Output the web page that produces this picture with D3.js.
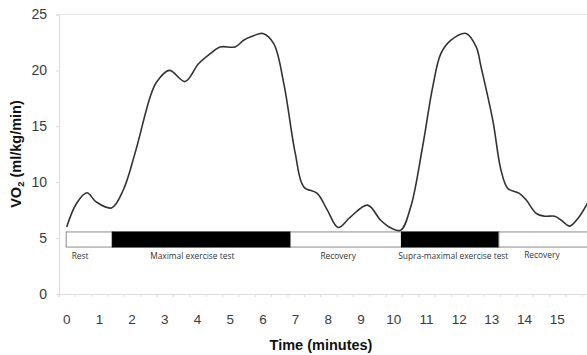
<!DOCTYPE html>
<html>
<head>
<meta charset="utf-8">
<script src="https://cdn.jsdelivr.net/npm/d3@7/dist/d3.min.js"></script>
<style>
  html, body { margin: 0; padding: 0; background: #fff; }
  svg { display: block; }
</style>
</head>
<body>
<svg id="chart" width="587" height="355"></svg>
<script>
// Oxygen uptake over time (minutes)
const timeMin = [0, 0.3, 0.62, 0.9, 1.37, 1.73, 2.09, 2.55, 2.75, 3.14, 3.62, 4.03, 4.39, 4.69, 5.15, 5.41, 5.71, 6.0, 6.33, 6.64, 6.99, 7.25, 7.66, 7.97, 8.3, 8.68, 9.2, 9.6, 9.86, 10.21, 10.52, 10.88, 11.19, 11.44, 11.75, 12.21, 12.52, 12.67, 13.03, 13.28, 13.49, 13.84, 14.05, 14.36, 14.61, 14.92, 15.12, 15.38, 15.63, 15.89, 16.0];
const vo2 = [6.0, 8.1, 9.05, 8.24, 7.7, 9.3, 12.6, 17.6, 18.96, 20.0, 19.0, 20.6, 21.5, 22.1, 22.1, 22.7, 23.1, 23.3, 22.4, 18.8, 12.56, 9.58, 9.0, 7.5, 5.95, 6.9, 7.95, 6.6, 6.0, 5.7, 7.8, 13.15, 18.5, 21.5, 22.7, 23.3, 22.1, 20.3, 15.5, 11.07, 9.44, 9.0, 8.4, 7.2, 6.96, 6.96, 6.6, 6.07, 6.76, 7.95, 8.6];

// Protocol phases shown as a bar along the bottom
const phaseNames = ["Rest", "Maximal exercise test", "Recovery", "Supra-maximal exercise test", "Recovery"];
const phaseStart = [0, 1.41, 6.86, 10.25, 13.23];
const phaseEnd = [1.41, 6.86, 10.25, 13.23, 16.5];
const phaseActive = [false, true, false, true, false];
const phaseLabelTime = [0.41, 3.84, 8.3, 11.82, 14.53];

const xTickLabels = ["0","1","2","3","4","5","6","7","8","9","10","11","12","13","14","15"];
const yTickValues = [0, 5, 10, 15, 20, 25];

const svg = d3.select("#chart");
const plotLeft = 59, plotRight = 587, plotTop = 14.5, plotBottom = 294;

const x = d3.scaleLinear().domain([-0.25, 16]).range([58.5, 590]);
const y = d3.scaleLinear().domain([0, 25]).range([plotBottom, plotTop]);

const axisColor = "#dcdcdc";

// frame: top line
svg.append("line").attr("x1", plotLeft).attr("x2", plotRight).attr("y1", plotTop).attr("y2", plotTop)
  .attr("stroke", "#e6e6e6").attr("stroke-width", 1);

const yAxis = d3.axisLeft(y).tickValues(yTickValues).tickSize(3).tickPadding(9).tickFormat(d3.format("d"));
const gy = svg.append("g").attr("transform", `translate(${plotLeft},0)`).call(yAxis);
gy.select(".domain").attr("stroke", axisColor);
gy.selectAll(".tick line").attr("stroke", axisColor);
gy.selectAll(".tick text").attr("font-family", "Liberation Sans, Arial, sans-serif")
  .attr("font-size", 14).attr("fill", "#3a3a3a");

// minor ticks every half minute along the time axis
const minorTicks = d3.range(-0.25, 16, 0.5);
const xAxis = d3.axisBottom(x).tickValues(minorTicks).tickSize(3).tickFormat("");
const gx = svg.append("g").attr("transform", `translate(0,${plotBottom})`).call(xAxis);
gx.select(".domain").attr("stroke", axisColor);
gx.selectAll(".tick line").attr("stroke", axisColor);

// time labels at whole minutes
svg.append("g").selectAll("text").data(xTickLabels).join("text")
  .attr("x", d => x(+d))
  .attr("y", 324)
  .attr("text-anchor", "middle")
  .attr("font-family", "Liberation Sans, Arial, sans-serif")
  .attr("font-size", 13.5)
  .attr("fill", "#3a3a3a")
  .text(d => d);

// axis titles
svg.append("text")
  .attr("x", 321).attr("y", 350)
  .attr("text-anchor", "middle")
  .attr("font-family", "Liberation Sans, Arial, sans-serif")
  .attr("font-weight", "bold").attr("font-size", 14.5).attr("fill", "#111")
  .text("Time (minutes)");

const yt = svg.append("text")
  .attr("transform", "translate(21,154) rotate(-90)")
  .attr("text-anchor", "middle")
  .attr("font-family", "Liberation Sans, Arial, sans-serif")
  .attr("font-weight", "bold").attr("font-size", 14.5).attr("fill", "#111");
yt.append("tspan").text("VO");
yt.append("tspan").attr("font-size", 9.5).attr("dy", 3).text("2");
yt.append("tspan").attr("dy", -3).text(" (ml/kg/min)");

// clip to plotting area
svg.append("clipPath").attr("id", "plotClip")
  .append("rect").attr("x", plotLeft).attr("y", 0).attr("width", plotRight - plotLeft + 1).attr("height", plotBottom);

// protocol bar
const barLow = 4.2, barHigh = 5.55;
const phases = phaseNames.map((name, i) => ({
  name, start: phaseStart[i], end: phaseEnd[i], active: phaseActive[i], labelT: phaseLabelTime[i]
}));

const barG = svg.append("g").attr("clip-path", "url(#plotClip)");
barG.selectAll("rect").data(phases).join("rect")
  .attr("x", d => x(d.start) - 0.5)
  .attr("y", y(barHigh))
  .attr("width", d => x(d.end) - x(d.start))
  .attr("height", y(barLow) - y(barHigh))
  .attr("fill", d => d.active ? "#000" : "#fff")
  .attr("stroke", d => d.active ? "#000" : "#8a8a8a")
  .attr("stroke-width", 1);

svg.append("g").selectAll("text").data(phases).join("text")
  .attr("x", d => x(d.labelT))
  .attr("y", (d, i) => i === 4 ? 258 : 259)
  .attr("text-anchor", "middle")
  .attr("font-family", "Open Sans, sans-serif")
  .attr("font-size", 8.4)
  .attr("fill", "#333")
  .text(d => d.name);

// VO2 trace
const series = timeMin.map((t, i) => ({ t, v: vo2[i] }));
const line = d3.line()
  .x(d => x(d.t))
  .y(d => y(d.v))
  .curve(d3.curveCatmullRom.alpha(0.5));

svg.append("path")
  .datum(series)
  .attr("clip-path", "url(#plotClip)")
  .attr("d", line)
  .attr("fill", "none")
  .attr("stroke", "#333")
  .attr("stroke-width", 1.6)
  .attr("stroke-linejoin", "round");
</script>
</body>
</html>
